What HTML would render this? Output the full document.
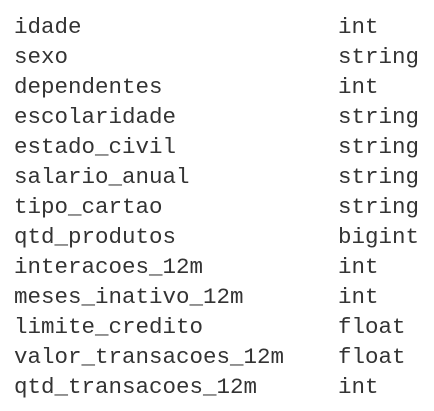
<!DOCTYPE html>
<html><head><style>
html,body{margin:0;padding:0;background:#fff;width:434px;height:411px;overflow:hidden}
.t{position:absolute;left:14px;top:12px;font-family:"Liberation Mono",monospace;font-size:22.5px;line-height:30px;color:#333}
.r{position:relative;height:30px;white-space:pre}
.r span{position:absolute;left:324px;top:0}
</style></head><body>
<div class="t">
<div class="r">idade<span>int</span></div>
<div class="r">sexo<span>string</span></div>
<div class="r">dependentes<span>int</span></div>
<div class="r">escolaridade<span>string</span></div>
<div class="r">estado_civil<span>string</span></div>
<div class="r">salario_anual<span>string</span></div>
<div class="r">tipo_cartao<span>string</span></div>
<div class="r">qtd_produtos<span>bigint</span></div>
<div class="r">interacoes_12m<span>int</span></div>
<div class="r">meses_inativo_12m<span>int</span></div>
<div class="r">limite_credito<span>float</span></div>
<div class="r">valor_transacoes_12m<span>float</span></div>
<div class="r">qtd_transacoes_12m<span>int</span></div>
</div>
</body></html>
